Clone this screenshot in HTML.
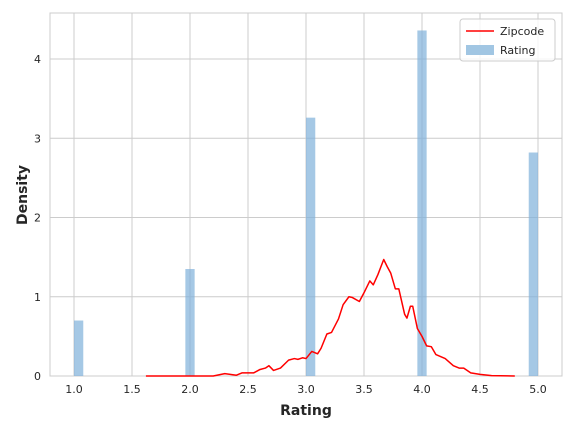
<!DOCTYPE html>
<html><head><meta charset="utf-8"><style>
body{margin:0;background:#fff;}
svg text{font-family:"DejaVu Sans","Liberation Sans",sans-serif;fill:#262626;}
</style></head><body>
<svg id="chart" width="575" height="431" viewBox="0 0 575 431">
<rect x="50" y="13" width="512" height="363" fill="#fff" stroke="#cccccc"/>
<g id="grid"></g><g id="bars"></g><g id="line"></g><g id="axes"></g>
<g>
<rect x="460" y="19" width="95" height="42" rx="3" fill="#fff" stroke="#cccccc" fill-opacity="0.8"/>
<line x1="466" y1="31" x2="494" y2="31" stroke="#ff0000" stroke-width="1.5"/>
<text x="500" y="35" font-size="11">Zipcode</text>
<rect x="466" y="45" width="28" height="10" fill="#a1c6e3"/>
<text x="500" y="54" font-size="11">Rating</text>
</g>
<text x="306" y="415" font-size="14" font-weight="bold" text-anchor="middle">Rating</text>
<text transform="translate(27,195) rotate(-90)" font-size="14" font-weight="bold" text-anchor="middle">Density</text>
</svg>
<script>
const xTicks=[1.0,1.5,2.0,2.5,3.0,3.5,4.0,4.5,5.0];
const yTicks=[0,1,2,3,4];
const binStarts=[1.0,1.96,3.0,3.96,4.92];
const binHeights=[0.70,1.35,3.26,4.36,2.82];
const binWidth=0.08;
const kdeX=[1.62,2.2,2.3,2.4,2.45,2.5,2.55,2.6,2.65,2.68,2.72,2.78,2.85,2.9,2.93,2.97,3.0,3.05,3.1,3.13,3.18,3.22,3.28,3.32,3.37,3.4,3.46,3.5,3.55,3.58,3.62,3.67,3.7,3.73,3.77,3.8,3.85,3.87,3.9,3.92,3.96,4.0,4.04,4.08,4.12,4.2,4.27,4.32,4.36,4.42,4.5,4.6,4.8];
const kdeY=[0,0,0.03,0.01,0.04,0.04,0.04,0.08,0.1,0.13,0.07,0.1,0.2,0.22,0.21,0.23,0.22,0.31,0.28,0.35,0.53,0.55,0.72,0.9,1.0,0.99,0.94,1.05,1.2,1.15,1.28,1.47,1.38,1.3,1.1,1.1,0.78,0.73,0.88,0.88,0.6,0.5,0.38,0.37,0.27,0.22,0.13,0.1,0.1,0.04,0.02,0.005,0];
const sx=v=>74+(v-1)*116;
const sy=v=>376-v*79.25;
const NS="http://www.w3.org/2000/svg";
function mk(tag,attrs,parent){const e=document.createElementNS(NS,tag);for(const k in attrs)e.setAttribute(k,attrs[k]);document.getElementById(parent).appendChild(e);return e;}
xTicks.forEach(t=>{
 const l=mk('line',{x1:sx(t),x2:sx(t),y1:13,y2:376,stroke:'#cccccc'},'grid');
 
 
 const tx=mk('text',{x:sx(t),y:393,'font-size':11,'text-anchor':'middle'},'axes');tx.textContent=t.toFixed(1);
 
 
});
yTicks.forEach(t=>{
 const l=mk('line',{x1:50,x2:562,y1:sy(t),y2:sy(t),stroke:'#cccccc'},'grid');
 
 
 const tx=mk('text',{x:41,y:sy(t)+4,'font-size':11,'text-anchor':'end'},'axes');tx.textContent=t;
 
 
});
binStarts.forEach((b,i)=>{
 const r=mk('rect',{x:sx(b),y:sy(binHeights[i]),width:sx(b+binWidth)-sx(b),height:sy(0)-sy(binHeights[i]),fill:'#7fb1da','fill-opacity':0.7},'bars');
 
 
});
const p=mk('polyline',{points:kdeX.map((x,i)=>sx(x)+','+sy(kdeY[i])).join(' '),fill:'none',stroke:'#ff0000','stroke-width':1.5,'stroke-linejoin':'round'},'line');


</script>
</body></html>
